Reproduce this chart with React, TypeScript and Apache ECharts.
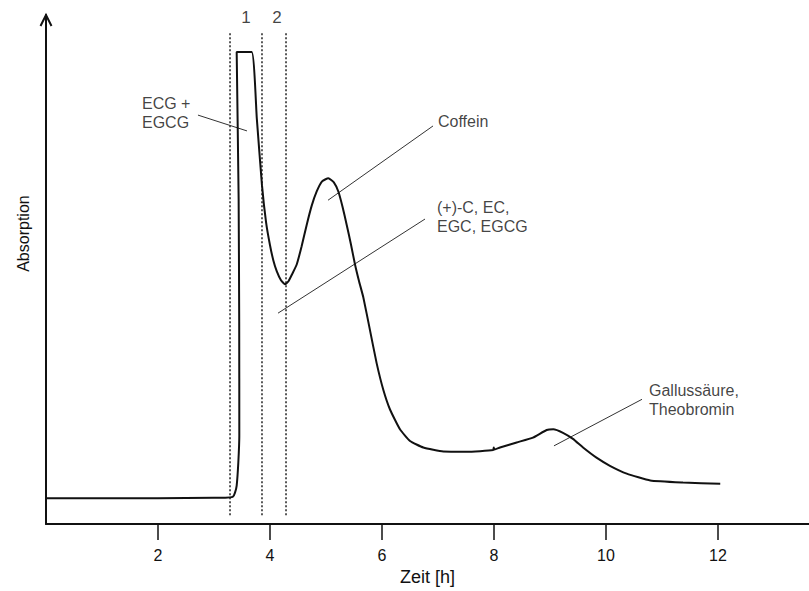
import React, { useEffect, useRef } from "react";
import * as echarts from "echarts";

// Chromatogram trace (time in h, absorption in arbitrary units)
const times = [
  0, 1.0, 2.0, 3.0, 3.2, 3.339, 3.375, 3.405, 3.434, 3.452, 3.45, 3.44, 3.405,
  3.673, 3.765, 3.857, 3.93, 4.0, 4.06, 4.12, 4.196, 4.268, 4.33, 4.4, 4.477,
  4.565, 4.655, 4.745, 4.834, 4.93, 5.042, 5.14, 5.22, 5.295, 5.37, 5.445, 5.518,
  5.59, 5.667, 5.786, 5.905, 6.023, 6.143, 6.321, 6.5, 6.738, 7.095, 7.513, 7.985,
  7.995, 8.01, 8.107, 8.405, 8.696, 8.94, 9.059, 9.232, 9.41, 9.59, 9.83, 10.07,
  10.37, 10.79, 11.375, 12.04,
];
const absorbance = [
  5.1, 5.1, 5.1, 5.2, 5.2, 5.4, 6.2, 7.6, 12.1, 17.4, 40, 64, 93.1,
  93.1, 79.9, 66.8, 59.5, 55.0, 52.0, 49.9, 48.1, 47.3, 47.9, 49.4, 51.2,
  54.8, 59.0, 62.8, 65.6, 67.6, 68.2, 67.4, 65.6, 62.6, 59.0, 55.2, 51.2,
  47.9, 44.7, 38.2, 31.7, 26.5, 22.6, 18.7, 16.4, 15.1, 14.3, 14.26, 14.6,
  15.1, 14.7, 15.1, 16.1, 17.05, 18.55, 18.7, 18.0, 16.8, 15.1, 13.1, 11.5,
  9.96, 8.6, 8.2, 7.95,
];

const xTicks = [2, 4, 6, 8, 10, 12];
const X_MAX = 13.625;
const Y_MAX = 100.4;

// Fraction boundaries (dotted verticals) and their labels
const fractionBounds = [3.286, 3.857, 4.286];
const fractionSpan = [1.76, 97.07];
const fractionLabels = ["1", "2"];
const fractionLabelX = [3.571, 4.125];

// Peak annotations
const annotationTexts = [
  "ECG +\nEGCG",
  "Coffein",
  "(+)-C, EC,\nEGC, EGCG",
  "Gallussäure,\nTheobromin",
];
const annotationAnchors = [
  [1.714, 81.15],
  [7.0, 79.3],
  [6.982, 60.55],
  [10.768, 24.51],
];
const annotationPointers = [
  [[2.714, 80.66], [3.589, 77.54]],
  [[6.911, 78.52], [5.036, 63.87]],
  [[6.768, 60.16], [4.143, 41.6]],
  [[10.643, 24.61], [9.071, 15.43]],
];

const FONT = "'Liberation Sans', Arial, Helvetica, sans-serif";
const GRID_LEFT = 46;
const GRID_TOP = 15;
const GRID_BOTTOM = 62;

export default function App() {
  const ref = useRef<HTMLDivElement>(null);

  useEffect(() => {
    if (!ref.current) return;
    const chart = echarts.init(ref.current, undefined, { renderer: "svg" });

    const series: any[] = [
      {
        type: "line",
        data: times.map((t, i) => [t, absorbance[i]]),
        symbol: "none",
        smooth: 0.15,
        lineStyle: { color: "#111", width: 2 },
        silent: true,
        z: 5,
      },
    ];

    fractionBounds.forEach((b) => {
      series.push({
        type: "line",
        data: [
          [b, fractionSpan[0]],
          [b, fractionSpan[1]],
        ],
        symbol: "none",
        lineStyle: { color: "#222", width: 1.5, type: [2, 2] },
        silent: true,
        z: 3,
      });
    });

    annotationPointers.forEach((p) => {
      series.push({
        type: "line",
        data: p,
        symbol: "none",
        lineStyle: { color: "#333", width: 1 },
        silent: true,
        z: 4,
      });
    });

    series.push({
      type: "scatter",
      symbolSize: 0,
      silent: true,
      data: annotationAnchors.map((a, i) => ({ value: a, name: annotationTexts[i] })),
      label: {
        show: true,
        position: "right",
        distance: 0,
        formatter: (p: any) => p.name,
        color: "#111",
        fontFamily: FONT,
        fontSize: 16,
        lineHeight: 19,
        align: "left",
        verticalAlign: "middle",
      },
    });

    series.push({
      type: "scatter",
      symbolSize: 0,
      silent: true,
      data: fractionLabelX.map((x, i) => ({ value: [x, Y_MAX - 0.4], name: fractionLabels[i] })),
      label: {
        show: true,
        position: "inside",
        formatter: (p: any) => p.name,
        color: "#111",
        fontFamily: FONT,
        fontSize: 17,
      },
    });

    chart.setOption({
      animation: false,
      backgroundColor: "#fff",
      grid: { left: GRID_LEFT, right: 0, top: GRID_TOP, bottom: GRID_BOTTOM, containLabel: false },
      xAxis: {
        type: "value",
        min: 0,
        max: X_MAX,
        interval: 2,
        name: "Zeit [h]",
        nameLocation: "middle",
        nameGap: 42,
        nameTextStyle: { fontFamily: FONT, fontSize: 18, color: "#111" },
        axisLine: { show: true, onZero: false, lineStyle: { color: "#111", width: 2 } },
        axisTick: {
          show: true,
          inside: false,
          length: 16,
          customValues: xTicks,
          lineStyle: { color: "#111", width: 1.5 },
        },
        axisLabel: {
          customValues: xTicks,
          margin: 23,
          fontFamily: FONT,
          fontSize: 16,
          color: "#111",
        },
        splitLine: { show: false },
      },
      yAxis: {
        type: "value",
        min: 0,
        max: Y_MAX,
        name: "Absorption",
        nameLocation: "middle",
        nameGap: 15,
        nameTextStyle: {
          fontFamily: FONT,
          fontSize: 16,
          color: "#111",
          padding: [0, 0, 0, 72],
        },
        axisLine: { show: true, onZero: false, lineStyle: { color: "#111", width: 2 } },
        axisTick: { show: false },
        axisLabel: { show: false },
        splitLine: { show: false },
      },
      graphic: [
        {
          type: "polyline",
          silent: true,
          shape: {
            points: [
              [GRID_LEFT - 5.5, GRID_TOP + 11],
              [GRID_LEFT, GRID_TOP],
              [GRID_LEFT + 5.5, GRID_TOP + 11],
            ],
          },
          style: { stroke: "#111", lineWidth: 2, fill: "none" },
        },
      ],
      series,
    });

    return () => chart.dispose();
  }, []);

  return (
    <div
      ref={ref}
      style={{ position: "absolute", left: 0, top: 0, width: 809, height: 591 }}
    />
  );
}
